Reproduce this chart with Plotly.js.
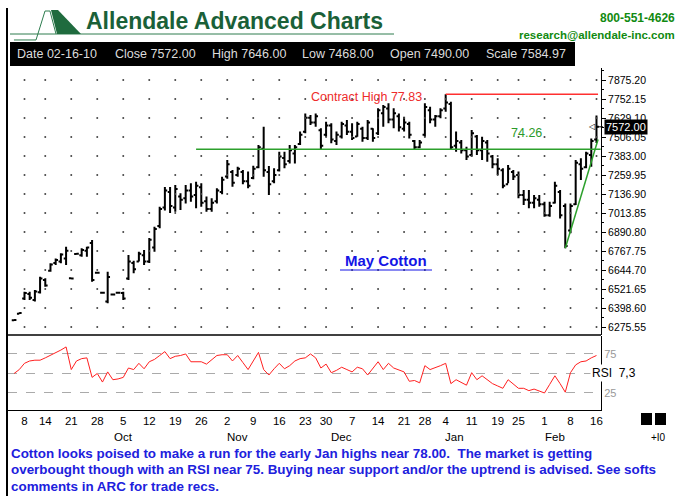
<!DOCTYPE html>
<html>
<head>
<meta charset="utf-8">
<script src="https://cdn.plot.ly/plotly-3.0.1.min.js"></script>
<style>
  body { margin: 0; background: #fff; }
  #chart { width: 678px; height: 496px; }
</style>
</head>
<body>
<div id="chart"></div>
<script>
// daily bars, first one is 2 trading days before Sep 8 (index 0)
const FIRST_BAR = -2;

const barOpen = [
  6320,6362,6460,6490,6450,6500,6580,6640,6690,6700,
  6720,6592,6748,6740,6770,6820,6627,6498,6440,6486,
  6497,6495,6590,6690,6700,6740,6700,6790,6930,7050,
  7150,7050,7120,7110,7160,7130,7180,7090,7040,7090,
  7150,7250,7280,7260,7280,7220,7240,7310,7430,7280,
  7220,7290,7370,7350,7400,7460,7540,7630,7600,7550,
  7520,7580,7480,7510,7580,7540,7510,7560,7500,7560,
  7530,7660,7690,7620,7640,7560,7590,7480,7440,7520,
  7680,7620,7640,7690,7720,7450,7470,7420,7390,7510,
  7420,7470,7380,7330,7290,7200,7280,7260,7130,7100,
  7080,7100,7070,7000,7080,7150,7060,6900,7070,7330,
  7310,7390,7490
];
const barHigh = [
  6325,6370,6504,6504,6515,6601,6591,6688,6720,6753,
  6796,6595,6752,6785,6796,6839,6630,6500,6634,6490,
  6500,6504,6742,6705,6763,6774,6852,6925,7055,7182,
  7182,7195,7141,7195,7206,7217,7206,7120,7109,7174,
  7249,7357,7292,7314,7292,7282,7320,7454,7573,7318,
  7303,7411,7411,7454,7454,7541,7659,7649,7659,7562,
  7605,7595,7541,7605,7616,7595,7605,7573,7616,7562,
  7692,7713,7724,7692,7659,7638,7605,7487,7487,7724,
  7702,7649,7692,7783,7735,7541,7487,7443,7551,7519,
  7508,7487,7389,7368,7303,7325,7292,7282,7163,7163,
  7130,7130,7087,7087,7217,7163,7076,7076,7357,7368,
  7411,7497,7646
];
const barLow = [
  6318,6360,6450,6450,6440,6493,6537,6634,6677,6688,
  6677,6588,6745,6731,6731,6569,6624,6496,6429,6483,
  6495,6450,6580,6624,6699,6677,6690,6763,6915,7030,
  7014,7022,7033,7076,7087,7044,7055,7022,7022,7076,
  7135,7235,7184,7249,7200,7174,7232,7303,7249,7130,
  7206,7282,7303,7335,7335,7454,7530,7584,7573,7422,
  7508,7465,7454,7497,7519,7487,7508,7476,7487,7476,
  7519,7573,7595,7562,7541,7541,7497,7422,7433,7508,
  7595,7573,7627,7670,7422,7411,7400,7357,7379,7389,
  7357,7346,7303,7260,7174,7206,7228,7109,7066,7044,
  7044,7055,6990,6990,7076,6979,6785,6882,7066,7228,
  7303,7314,7468
];
const barClose = [
  6321,6366,6495,6465,6505,6590,6545,6680,6710,6745,
  6770,6590,6750,6775,6790,6580,6627,6498,6600,6486,
  6497,6460,6700,6650,6750,6700,6840,6910,7040,7160,
  7060,7170,7100,7160,7120,7190,7080,7040,7080,7160,
  7230,7330,7210,7300,7220,7190,7300,7440,7290,7200,
  7260,7380,7330,7420,7440,7520,7630,7600,7640,7450,
  7580,7490,7520,7590,7540,7500,7590,7500,7600,7500,
  7680,7700,7620,7660,7570,7600,7520,7440,7470,7700,
  7620,7640,7680,7730,7440,7480,7420,7380,7530,7420,
  7480,7400,7330,7300,7190,7300,7250,7130,7100,7080,
  7110,7070,7000,7060,7190,7000,6800,7060,7340,7300,
  7400,7480,7572
];
const rsiValues = [
  50,55,63,66,67,67,70,73,77,80,
  84,55,66,69,70,45,50,39,52,42,
  43,45,57,55,63,56,65,68,73,78,
  69,72,73,75,65,65,65,62,68,73,
  74,74,66,73,64,55,66,77,55,48,
  56,63,56,60,66,69,70,75,70,57,
  62,51,54,58,55,52,58,56,48,57,
  65,55,63,57,54,52,40,41,38,60,
  55,57,60,63,37,42,39,35,51,42,
  47,42,37,34,31,42,37,31,31,28,
  30,28,25,36,47,37,26,51,61,65,
  66,70,73
];

// x axis: trading day index of each weekly label
const tickIdx  = [0, 4, 9, 14, 19, 24, 29, 34, 39, 44, 49, 54, 58, 63, 68, 73, 77, 81, 86, 91, 95, 100, 105, 110];
const tickDays = ['8','14','21','28','5','12','19','26','2','9','16','23','30','7','14','21','28','4','11','19','25','1','8','16'];
const monthNames = ['Oct', 'Nov', 'Dec', 'Jan', 'Feb'];
const monthIdx   = [19, 41, 61, 82.6, 102];

const priceTicks = [6275.55, 6398.60, 6521.65, 6644.70, 6767.75, 6890.80, 7013.85,
                    7136.90, 7259.95, 7383.00, 7506.05, 7629.10, 7752.15, 7875.20];

const contractHigh = 7783;
const supportLevel = 7426;
const supportStart = 33;
const highStart = 81;
const trendFrom = [104, 6785];
const trendTo = [110.3, 7490];

const infoFields = ['Date 02-16-10', 'Close 7572.00', 'High 7646.00', 'Low 7468.00', 'Open 7490.00', 'Scale 7584.97'];
const infoX = [15, 113, 210, 300, 388, 484];

const comment = [
  'Cotton looks poised to make a run for the early Jan highs near 78.00.  The market is getting',
  'overbought though with an RSI near 75. Buying near support and/or the uptrend is advised. See softs',
  'comments in ARC for trade recs.'
];

const W = 678, H = 496;
function px(x) { return x / W; }
function py(y) { return 1 - y / H; }
function pathPx(pts, close) {
  let s = pts.map((p, i) => (i ? 'L' : 'M') + px(p[0]).toFixed(4) + ',' + py(p[1]).toFixed(4)).join(' ');
  return close ? s + ' Z' : s;
}

const barX = barHigh.map((_, k) => k + FIRST_BAR);
const lastClose = barClose[barClose.length - 1];

const FONT = 'Liberation Sans, Arial, sans-serif';

// dotted grid: one dot per week column and price row
var gridX = [], gridY = [];
tickIdx.forEach(function (xv) {
  priceTicks.forEach(function (yv) {
    gridX.push(xv);
    gridY.push(yv);
  });
});

var traces = [
  {
    type: 'scatter', mode: 'markers', x: gridX, y: gridY,
    xaxis: 'x', yaxis: 'y', hoverinfo: 'skip',
    marker: { size: 2, color: '#444' }
  },
  {
    type: 'ohlc', x: barX, open: barOpen, high: barHigh, low: barLow, close: barClose,
    xaxis: 'x', yaxis: 'y', tickwidth: 0.45,
    increasing: { line: { color: '#000', width: 2 } },
    decreasing: { line: { color: '#000', width: 2 } }
  },
  {
    type: 'scatter', mode: 'lines', x: barX, y: rsiValues,
    xaxis: 'x', yaxis: 'y2',
    line: { color: '#ff2020', width: 1 }
  }
];

var annotations = [];
annotations.push({
  xref: 'paper', yref: 'paper', x: px(84), y: py(21), xanchor: 'left', yanchor: 'middle',
  text: '<b>Allendale Advanced Charts</b>', showarrow: false,
  font: { family: FONT, size: 23, color: '#1a6038' }
});
annotations.push({
  xref: 'paper', yref: 'paper', x: px(677), y: py(18), xanchor: 'right', yanchor: 'middle',
  text: '<b>800-551-4626</b>', showarrow: false,
  font: { family: FONT, size: 12, color: '#118a11' }
});
annotations.push({
  xref: 'paper', yref: 'paper', x: px(677), y: py(35), xanchor: 'right', yanchor: 'middle',
  text: '<b>research@allendale-inc.com</b>', showarrow: false,
  font: { family: FONT, size: 11.5, color: '#118a11' }
});
infoFields.forEach(function (t, i) {
  annotations.push({
    xref: 'paper', yref: 'paper', x: px(infoX[i]), y: py(54), xanchor: 'left', yanchor: 'middle',
    text: t, showarrow: false, font: { family: FONT, size: 12.5, color: '#dcdcdc' }
  });
});
monthNames.forEach(function (m, i) {
  annotations.push({
    xref: 'x', yref: 'paper', x: monthIdx[i], y: py(437), xanchor: 'center', yanchor: 'middle',
    text: m, showarrow: false, font: { family: FONT, size: 11.5, color: '#000' }
  });
});
annotations.push({
  xref: 'x', yref: 'y', x: 65.8, y: 7768, xanchor: 'center', yanchor: 'middle',
  text: 'Contract High 77.83', showarrow: false, font: { family: FONT, size: 12.5, color: '#ee2b2b' }
});
annotations.push({
  xref: 'x', yref: 'y', x: 96.6, y: 7532, xanchor: 'center', yanchor: 'middle',
  text: '74.26', showarrow: false, font: { family: FONT, size: 12.5, color: '#2a9a2a' }
});
annotations.push({
  xref: 'x', yref: 'y', x: 69.5, y: 6706, xanchor: 'center', yanchor: 'middle',
  text: '<b>May Cotton</b>', showarrow: false, font: { family: FONT, size: 15, color: '#1515e6' }
});
annotations.push({
  xref: 'paper', yref: 'y', x: px(604), y: lastClose, xanchor: 'left', yanchor: 'middle',
  text: lastClose.toFixed(2), showarrow: false, bgcolor: '#000', borderpad: 1,
  font: { family: FONT, size: 11, color: '#fff' }
});
annotations.push({
  xref: 'paper', yref: 'y', x: px(597), y: lastClose, xanchor: 'right', yanchor: 'middle',
  text: '◁', showarrow: false, font: { family: 'DejaVu Sans', size: 8, color: '#000' }
});
annotations.push({
  xref: 'paper', yref: 'y2', x: px(590), y: 50, xanchor: 'left', yanchor: 'middle',
  text: 'RSI  7,3', showarrow: false, bgcolor: '#fff',
  font: { family: FONT, size: 12, color: '#000' }
});
annotations.push({
  xref: 'paper', yref: 'paper', x: px(658), y: py(437), xanchor: 'center', yanchor: 'middle',
  text: '+I0', showarrow: false, font: { family: FONT, size: 10, color: '#000' }
});
comment.forEach(function (line, i) {
  annotations.push({
    xref: 'paper', yref: 'paper', x: px(9), y: py(453 + i * 16.5), xanchor: 'left', yanchor: 'middle',
    text: '<b>' + line + '</b>', showarrow: false, font: { family: FONT, size: 13.4, color: '#2020dd' }
  });
});

var shapes = [
  // frame
  { type: 'line', xref: 'paper', yref: 'paper', x0: px(7), x1: px(7), y0: py(8), y1: py(496), line: { color: '#000', width: 2 } },
  // logo
  { type: 'line', xref: 'paper', yref: 'paper', x0: px(10), x1: px(394), y0: py(34), y1: py(34), line: { color: '#2e7d4f', width: 1 } },
  { type: 'path', xref: 'paper', yref: 'paper', path: pathPx([[14, 40], [36, 40], [45, 11], [50, 11], [56, 34]]), line: { color: '#2e7d4f', width: 1 } },
  { type: 'path', xref: 'paper', yref: 'paper', path: pathPx([[51, 10], [58, 10], [81, 34], [57, 34]], true), fillcolor: '#1f6b3e', line: { width: 0 } },
  // info bar
  { type: 'rect', xref: 'paper', yref: 'paper', x0: px(10), x1: px(575), y0: py(66), y1: py(42), fillcolor: '#000', line: { width: 0 } },
  // panel separator
  { type: 'line', xref: 'paper', yref: 'paper', x0: px(8), x1: px(601), y0: py(335), y1: py(335), line: { color: '#000', width: 1.5 } },
  // underline under "May Cotton"
  { type: 'line', xref: 'paper', yref: 'paper', x0: px(340), x1: px(432), y0: py(270), y1: py(270), line: { color: '#1515e6', width: 1 } },
  // study lines
  { type: 'line', xref: 'x', yref: 'y', x0: supportStart, x1: 110.8, y0: supportLevel, y1: supportLevel, line: { color: '#2ca02c', width: 1.5 } },
  { type: 'line', xref: 'x', yref: 'y', x0: highStart, x1: 110.3, y0: contractHigh, y1: contractHigh, line: { color: '#ff3030', width: 1.5 } },
  { type: 'line', xref: 'x', yref: 'y', x0: trendFrom[0], x1: trendTo[0], y0: trendFrom[1], y1: trendTo[1], line: { color: '#2ca02c', width: 1.5 } },
  // last price pointer
  { type: 'line', xref: 'paper', yref: 'y', x0: px(597), x1: px(603), y0: lastClose, y1: lastClose, line: { color: '#000', width: 1 } },
  // bottom right buttons
  { type: 'rect', xref: 'paper', yref: 'paper', x0: px(641), x1: px(652), y0: py(425), y1: py(413), fillcolor: '#000', line: { width: 0 } },
  { type: 'rect', xref: 'paper', yref: 'paper', x0: px(655), x1: px(666), y0: py(425), y1: py(413), fillcolor: '#000', line: { width: 0 } }
];

var layout = {
  width: W,
  height: H,
  margin: { l: 0, r: 0, t: 0, b: 0 },
  paper_bgcolor: '#fff',
  plot_bgcolor: '#fff',
  showlegend: false,
  font: { family: FONT, size: 11, color: '#000' },
  xaxis: {
    domain: [px(8), px(601)],
    range: [-3.17, 110.87],
    anchor: 'y2',
    tickmode: 'array',
    tickvals: tickIdx,
    ticktext: tickDays,
    ticks: '',
    showgrid: false,
    zeroline: false,
    showline: true,
    linecolor: '#000',
    linewidth: 1,
    rangeslider: { visible: false },
    tickfont: { family: FONT, size: 11.5, color: '#000' }
  },
  yaxis: {
    domain: [py(335), py(68)],
    range: [6223.8, 7952.9],
    side: 'right',
    anchor: 'x',
    tickmode: 'array',
    tickvals: priceTicks,
    ticktext: priceTicks.map(function (v) { return v.toFixed(2); }),
    ticks: 'outside',
    ticklen: 4,
    tickcolor: '#000',
    minor: { dtick: 61.525, tick0: 6275.55, ticks: 'outside', ticklen: 2, tickcolor: '#000' },
    showgrid: false,
    zeroline: false,
    showline: true,
    linecolor: '#000',
    linewidth: 1,
    tickfont: { family: FONT, size: 10.5, color: '#000' }
  },
  yaxis2: {
    domain: [py(410), py(336)],
    range: [3.2, 98],
    side: 'right',
    anchor: 'x',
    tickmode: 'array',
    tickvals: [25, 50, 75],
    ticktext: ['25', '', '75'],
    ticks: '',
    showgrid: true,
    gridcolor: '#aaa',
    griddash: 'dash',
    gridwidth: 1,
    zeroline: false,
    showline: true,
    linecolor: '#000',
    linewidth: 1,
    tickfont: { family: FONT, size: 11, color: '#999' }
  },
  shapes: shapes,
  annotations: annotations
};

Plotly.newPlot('chart', traces, layout, { displayModeBar: false, staticPlot: true });
</script>
</body>
</html>
